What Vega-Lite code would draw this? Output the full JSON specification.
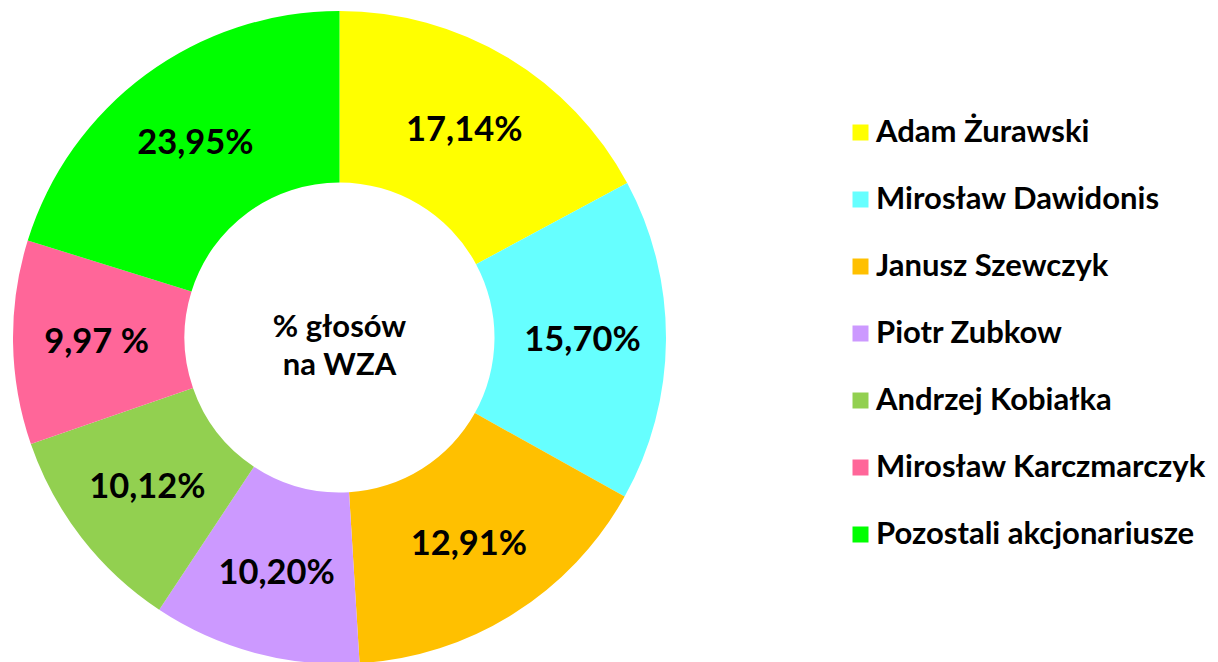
{
  "$schema": "https://vega.github.io/schema/vega-lite/v6.json",
  "width": 679,
  "height": 675,
  "padding": 0,
  "autosize": {"type": "pad"},
  "background": "white",
  "config": {"view": {"stroke": null}, "font": "Lato"},
  "datasets": {
    "shares": [
      {"order": 1, "holder": "Adam Żurawski", "pct": 17.16, "label": "17,14%"},
      {"order": 2, "holder": "Mirosław Dawidonis", "pct": 15.94, "label": "15,70%"},
      {"order": 3, "holder": "Janusz Szewczyk", "pct": 15.92, "label": "12,91%"},
      {"order": 4, "holder": "Piotr Zubkow", "pct": 10.29, "label": "10,20%"},
      {"order": 5, "holder": "Andrzej Kobiałka", "pct": 10.40, "label": "10,12%"},
      {"order": 6, "holder": "Mirosław Karczmarczyk", "pct": 10.09, "label": "9,97 %"},
      {"order": 7, "holder": "Pozostali akcjonariusze", "pct": 20.20, "label": "23,95%"}
    ]
  },
  "layer": [
    {
      "data": {"name": "shares"},
      "mark": {"type": "arc", "outerRadius": 326.5, "innerRadius": 155},
      "encoding": {
        "theta": {"field": "pct", "type": "quantitative", "stack": true},
        "order": {"field": "order", "type": "quantitative", "sort": "ascending"},
        "color": {
          "field": "holder",
          "type": "nominal",
          "scale": {
            "domain": ["Adam Żurawski", "Mirosław Dawidonis", "Janusz Szewczyk", "Piotr Zubkow", "Andrzej Kobiałka", "Mirosław Karczmarczyk", "Pozostali akcjonariusze"],
            "range": ["#FFFF00", "#66FFFF", "#FFC000", "#CC99FF", "#92D050", "#FF6699", "#00FF00"]
          },
          "legend": {
            "title": null,
            "orient": "none",
            "legendX": 845,
            "legendY": 117,
            "symbolType": "square",
            "symbolSize": 256,
            "symbolStrokeWidth": 0,
            "labelFont": "Lato",
            "labelFontWeight": "bold",
            "labelFontSize": 31,
            "labelColor": "#000000",
            "labelOffset": 0,
            "labelLimit": 500,
            "rowPadding": 35
          }
        }
      }
    },
    {
      "data": {"name": "shares"},
      "mark": {"type": "text", "radius": 243, "font": "Lato", "fontWeight": "bold", "fontSize": 34.5, "color": "#000000", "align": "center", "baseline": "middle", "dy": 2},
      "encoding": {
        "theta": {"field": "pct", "type": "quantitative", "stack": true},
        "order": {"field": "order", "type": "quantitative", "sort": "ascending"},
        "text": {"field": "label", "type": "nominal"}
      }
    },
    {
      "data": {"values": [{"t": "% głosów\nna WZA"}]},
      "mark": {"type": "text", "font": "Lato", "fontWeight": "bold", "fontSize": 31, "lineBreak": "\n", "lineHeight": 38, "color": "#000000", "align": "center", "baseline": "middle", "dy": -10},
      "encoding": {"text": {"field": "t", "type": "nominal"}}
    }
  ]
}
